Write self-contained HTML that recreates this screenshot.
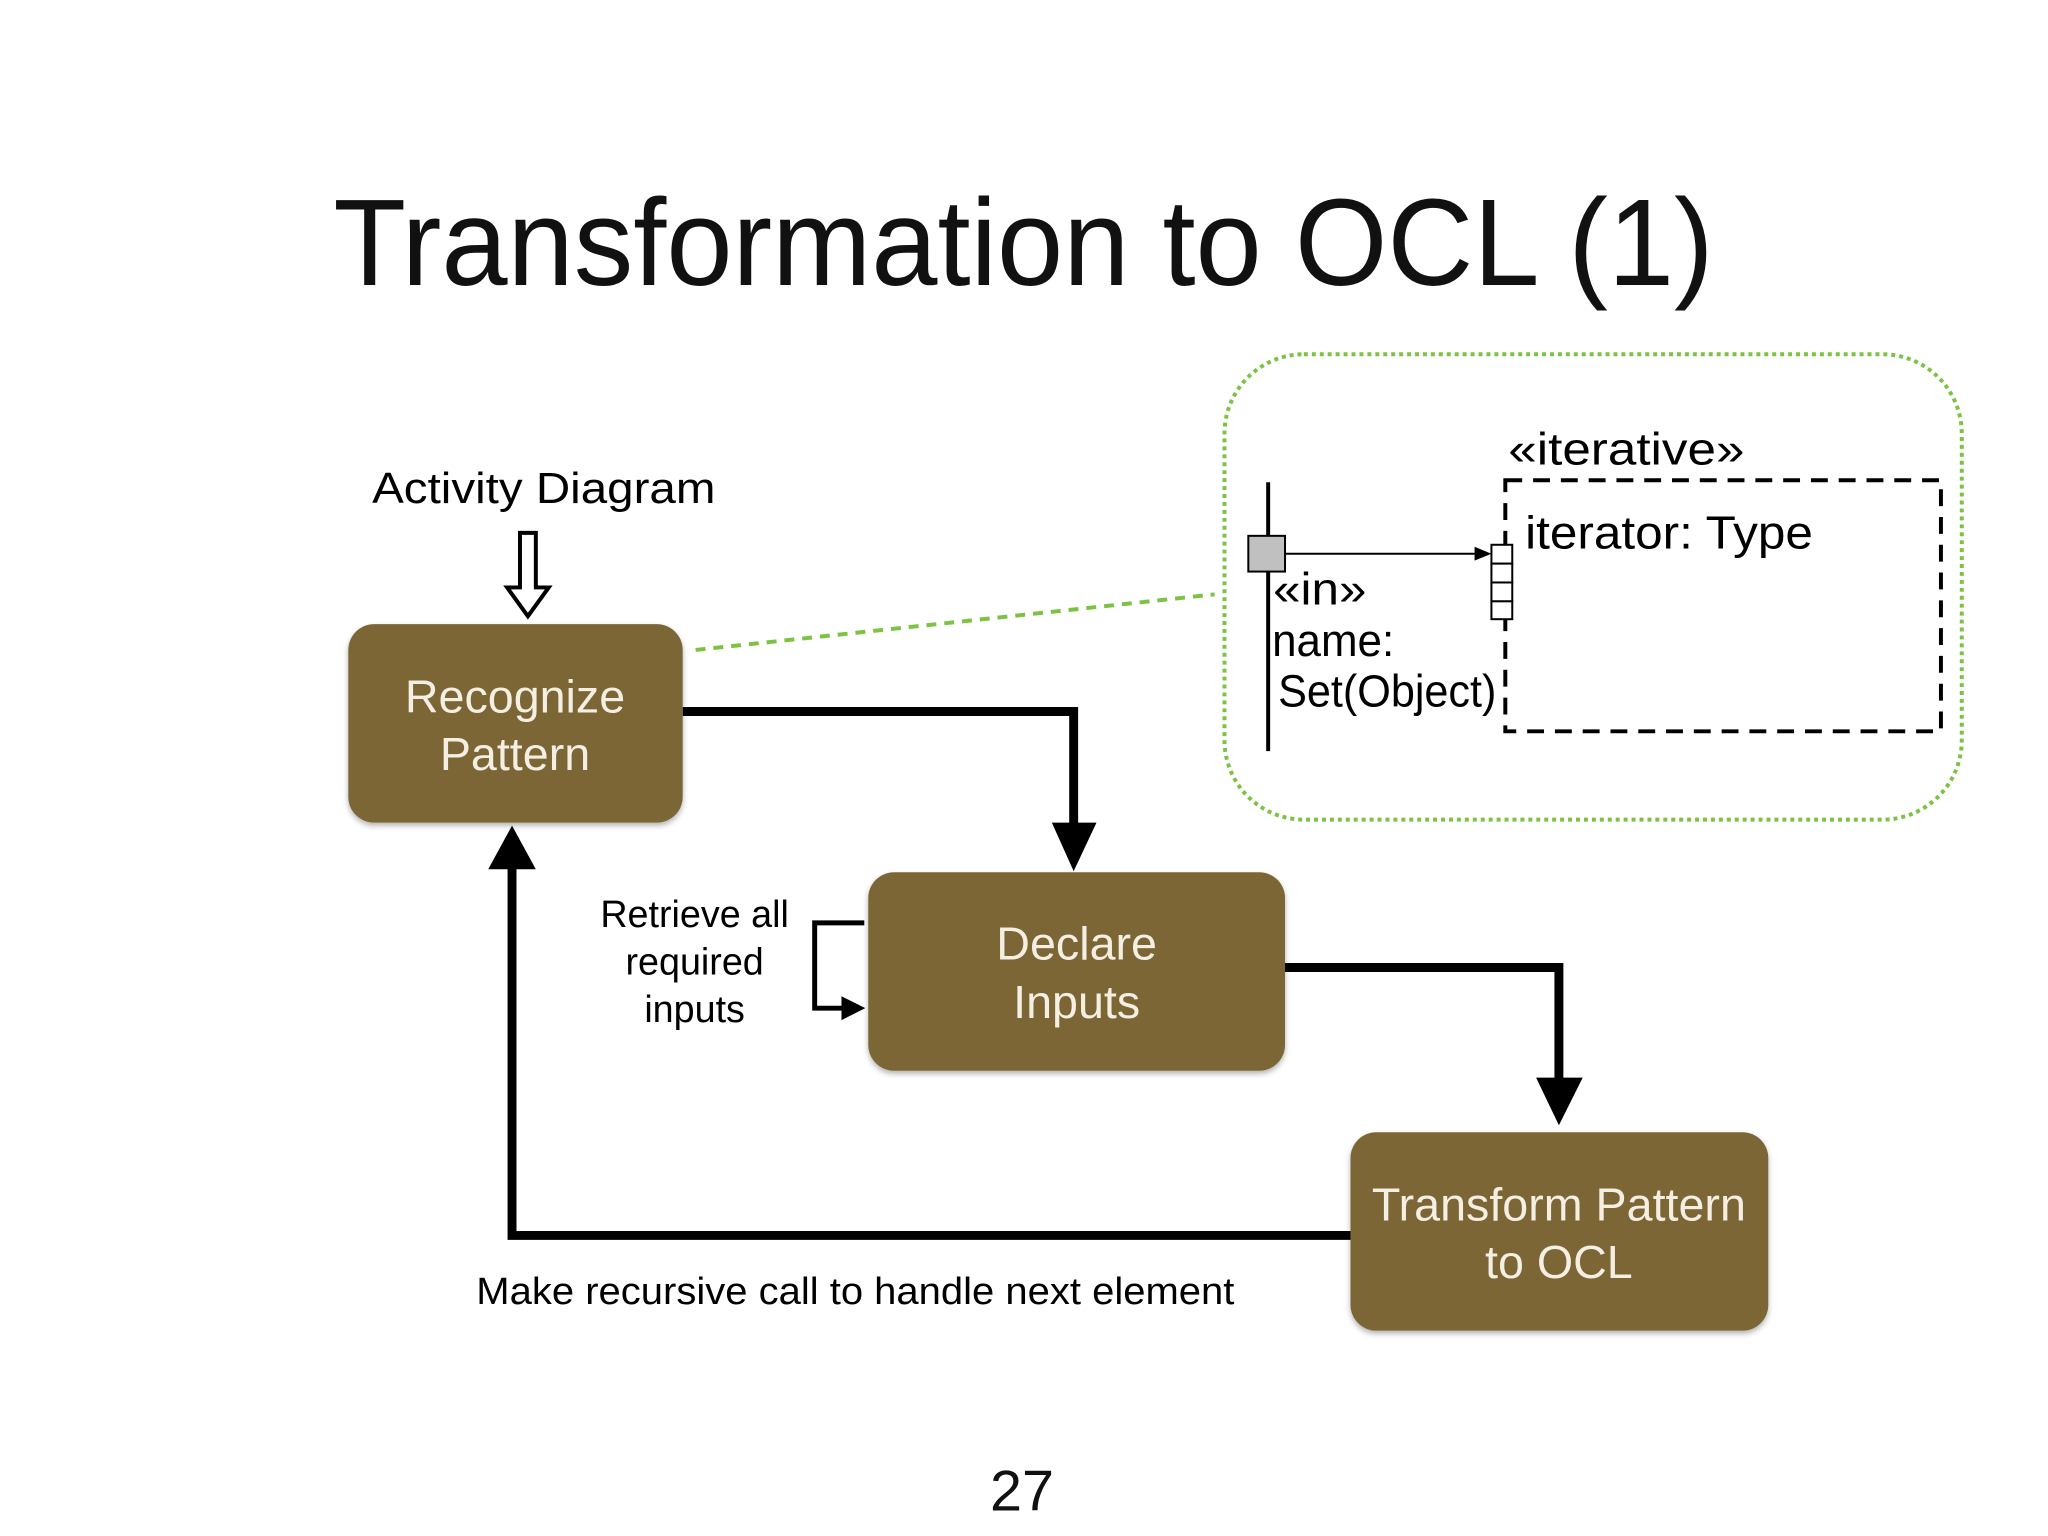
<!DOCTYPE html>
<html><head><meta charset="utf-8"><style>
html,body{margin:0;padding:0;background:#fff;}
svg{display:block;}
text{font-family:"Liberation Sans",sans-serif;}
</style></head><body>
<svg width="2048" height="1536" viewBox="0 0 2048 1536" xmlns="http://www.w3.org/2000/svg">
<defs>
<filter id="sh" x="-10%" y="-10%" width="120%" height="130%"><feDropShadow dx="0" dy="3" stdDeviation="3" flood-color="#000" flood-opacity="0.3"/></filter>
</defs>
<g transform="scale(0.9923)">
<text x="336" y="287" font-size="124" textLength="1391" lengthAdjust="spacingAndGlyphs" fill="#111">Transformation to OCL (1)</text>

<text x="375" y="507" font-size="44" textLength="346" lengthAdjust="spacingAndGlyphs" fill="#000">Activity Diagram</text>
<path d="M524,537 L540,537 L540,592 L553,592 L532,621 L511,592 L524,592 Z" fill="#fff" stroke="#000" stroke-width="4" stroke-linejoin="miter"/>

<rect x="1234" y="357" width="743" height="469" rx="80" fill="none" stroke="#7dc242" stroke-width="4" stroke-dasharray="4 4"/>
<line x1="701" y1="655" x2="1224" y2="599" stroke="#7dc242" stroke-width="4" stroke-dasharray="10 8"/>

<polyline points="688,717 1082,717 1082,832" fill="none" stroke="#000" stroke-width="9"/>
<polygon points="1060,829 1105,829 1082,878" fill="#000"/>
<polyline points="1295,975 1571,975 1571,1090" fill="none" stroke="#000" stroke-width="9"/>
<polygon points="1548,1086 1595,1086 1571,1134" fill="#000"/>
<polyline points="1361,1245 516,1245 516,870" fill="none" stroke="#000" stroke-width="9"/>
<polygon points="492,876 540,876 516,832" fill="#000"/>
<polyline points="871,930 821,930 821,1016 850,1016" fill="none" stroke="#000" stroke-width="5"/>
<polygon points="848,1004 872,1016 848,1028" fill="#000"/>

<g filter="url(#sh)">
<rect x="351" y="629" width="337" height="200" rx="26" fill="#7b6634"/>
<rect x="875" y="879" width="420" height="200" rx="26" fill="#7b6634"/>
<rect x="1361" y="1141" width="421" height="200" rx="26" fill="#7b6634"/>
</g>
<g fill="#f4efe2" font-size="47" text-anchor="middle">
<text x="519" y="718">Recognize</text>
<text x="519" y="776">Pattern</text>
<text x="1085" y="967">Declare</text>
<text x="1085" y="1026">Inputs</text>
<text x="1571" y="1230">Transform Pattern</text>
<text x="1571" y="1288">to OCL</text>
</g>

<g font-size="38" text-anchor="middle" fill="#000">
<text x="700" y="934">Retrieve all</text>
<text x="700" y="982">required</text>
<text x="700" y="1030">inputs</text>
</g>
<text x="480" y="1314" font-size="38" textLength="764" lengthAdjust="spacingAndGlyphs" fill="#000">Make recursive call to handle next element</text>
<text x="1030" y="1522" font-size="58" text-anchor="middle" fill="#111">27</text>

<line x1="1278" y1="486" x2="1278" y2="757" stroke="#000" stroke-width="4"/>
<rect x="1258" y="540" width="37" height="36" fill="#c0c0c0" stroke="#000" stroke-width="2"/>
<line x1="1295" y1="558" x2="1490" y2="558" stroke="#000" stroke-width="2"/>
<polygon points="1486,551 1503,558 1486,565" fill="#000"/>
<rect x="1517" y="484" width="439" height="253" fill="none" stroke="#000" stroke-width="4" stroke-dasharray="17 11"/>
<g fill="#fff" stroke="#000" stroke-width="2">
<rect x="1503" y="549" width="21" height="19"/>
<rect x="1503" y="568" width="21" height="19"/>
<rect x="1503" y="587" width="21" height="19"/>
<rect x="1503" y="606" width="21" height="18"/>
</g>
<g fill="#000">
<text x="1520" y="468" font-size="46" textLength="238" lengthAdjust="spacingAndGlyphs">«iterative»</text>
<text x="1537" y="553" font-size="47" textLength="290" lengthAdjust="spacingAndGlyphs">iterator: Type</text>
<text x="1283" y="609" font-size="46" textLength="94" lengthAdjust="spacingAndGlyphs">«in»</text>
<text x="1282" y="661" font-size="46" textLength="123" lengthAdjust="spacingAndGlyphs">name:</text>
<text x="1288" y="712" font-size="46" textLength="220" lengthAdjust="spacingAndGlyphs">Set(Object)</text>
</g>
</g>
</svg>
</body></html>
